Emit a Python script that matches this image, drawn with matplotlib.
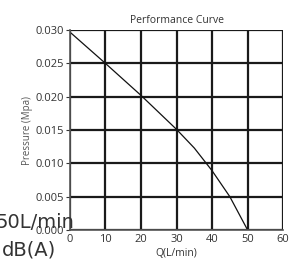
import matplotlib.pyplot as plt

# ── Data ──────────────────────────────────────────────────────────────────────
flow_lpm = [0, 10, 20, 30, 35, 40, 45, 50]
pressure_mpa = [0.0297, 0.0250, 0.0202, 0.0151, 0.0123, 0.0089, 0.0050, 0.0]

x_ticks = [0, 10, 20, 30, 40, 50, 60]
y_ticks = [0.000, 0.005, 0.010, 0.015, 0.020, 0.025, 0.030]

plt.rcParams.update({
    "font.family": ["Open Sans", "DejaVu Sans"],
    "font.size": 7,
})

fig = plt.figure(figsize=(2.94, 2.69), dpi=100)
ax = fig.add_axes([0.238, 0.145, 0.725, 0.743])

ax.plot(flow_lpm, pressure_mpa, color="#111111", linewidth=0.9)

ax.set_xlim(0, 60)
ax.set_ylim(0, 0.030)
ax.set_xticks(x_ticks)
ax.set_yticks(y_ticks)
ax.set_yticklabels([f"{v:.3f}" for v in y_ticks])
ax.grid(True, color="#1a1a1a", linewidth=1.6)
ax.set_axisbelow(True)

for side in ("top", "right"):
    ax.spines[side].set_visible(False)
for side in ("left", "bottom"):
    ax.spines[side].set_color("#555555")
    ax.spines[side].set_linewidth(1.2)

ax.tick_params(axis="y", length=3, width=0.8, colors="#333333", labelsize=8, pad=1)
ax.tick_params(axis="x", length=0, colors="#333333", labelsize=8, pad=3)

ax.set_title("Performance Curve", fontsize=7.5, color="#333333", pad=5)
ax.set_xlabel("Q(L/min)", fontsize=7.5, color="#333333", labelpad=2)
ax.set_ylabel("Pressure (Mpa)", fontsize=7, color="#555555", labelpad=2)

# leftover spec text cut off at the left edge
fig.text(74 / 294, 1 - 228 / 269, "50L/min", ha="right", va="baseline",
         fontsize=14, color="#333333", family="DejaVu Sans")
fig.text(56 / 294, 1 - 255 / 269, "dB(A)", ha="right", va="baseline",
         fontsize=14, color="#333333", family="DejaVu Sans")

fig.savefig("out.png", dpi=100)
